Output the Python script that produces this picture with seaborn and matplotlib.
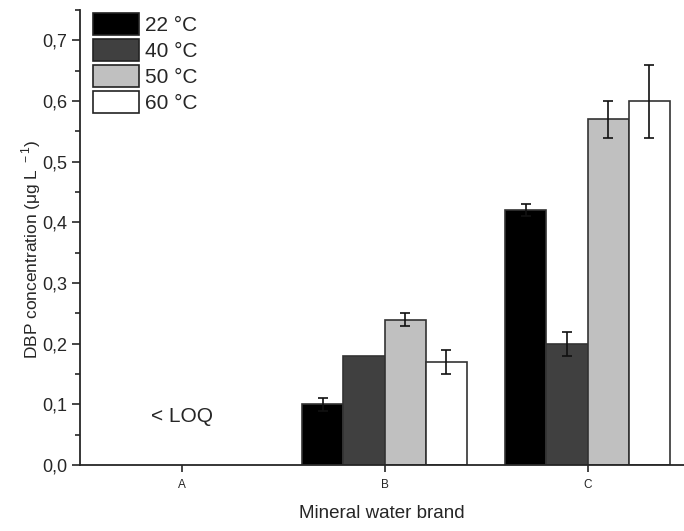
import numpy as np
import pandas as pd
import seaborn as sns
import matplotlib.pyplot as plt
from matplotlib.ticker import FuncFormatter, MultipleLocator
from matplotlib.patches import Patch

# data (A is below LOQ)
brands = ['A', 'B', 'C']
temps = ['22 °C', '40 °C', '50 °C', '60 °C']
conc_22 = [np.nan, 0.10, 0.42]
conc_40 = [np.nan, 0.18, 0.20]
conc_50 = [np.nan, 0.24, 0.57]
conc_60 = [np.nan, 0.17, 0.60]
err_22 = [np.nan, 0.01, 0.01]
err_40 = [np.nan, 0.00, 0.02]
err_50 = [np.nan, 0.01, 0.03]
err_60 = [np.nan, 0.02, 0.06]

colors = ['#000000', '#404040', '#c0c0c0', '#ffffff']

vals = [conc_22, conc_40, conc_50, conc_60]
errs = [err_22, err_40, err_50, err_60]
rows = []
for t, v, e in zip(temps, vals, errs):
    for b, vv, ee in zip(brands, v, e):
        rows.append({'brand': b, 'temp': t, 'conc': vv, 'err': ee})
df = pd.DataFrame(rows)

sns.set_style('ticks')
plt.rcParams['font.family'] = ['Liberation Sans', 'DejaVu Sans']
plt.rcParams['mathtext.fontset'] = 'custom'
plt.rcParams['mathtext.rm'] = 'Liberation Sans'

fig = plt.figure(figsize=(6.84, 5.31), dpi=100)
ax = fig.add_axes([0.117, 0.124, 0.883, 0.857])

sns.barplot(data=df.dropna(), x='brand', y='conc', hue='temp', order=brands,
            hue_order=temps, palette=colors, edgecolor='#333333', linewidth=1.2,
            width=0.81, gap=0, errorbar=None, legend=False, ax=ax)

# error bars on top of each bar
for t, cont in zip(temps, ax.containers):
    for bar in cont:
        xc = bar.get_x() + bar.get_width() / 2
        b = brands[int(round(xc))]
        e = df[(df.brand == b) & (df.temp == t)]['err'].iloc[0]
        if e > 0:
            ax.errorbar(xc, bar.get_height(), yerr=e, fmt='none', ecolor='#111111',
                        elinewidth=1.2, capsize=3.5, capthick=1.2)

ax.text(0, 0.08, '< LOQ', ha='center', va='center', fontsize=15)

ax.set_xlim(-0.5, 2.475)
ax.set_ylim(0, 0.75)
ax.yaxis.set_major_locator(MultipleLocator(0.1))
ax.yaxis.set_minor_locator(MultipleLocator(0.05))
ax.yaxis.set_major_formatter(FuncFormatter(lambda v, p: f'{v:.1f}'.replace('.', ',')))
ax.tick_params(axis='y', which='major', labelsize=13, length=6, width=1.2, pad=3)
ax.tick_params(axis='y', which='minor', length=3.5, width=1.2)
ax.tick_params(axis='x', labelsize=8.5, length=5, width=1.2, pad=5)
for s in ['top', 'right']:
    ax.spines[s].set_visible(False)
for s in ['left', 'bottom']:
    ax.spines[s].set_linewidth(1.3)

ax.set_xlabel('Mineral water brand', fontsize=13.5, labelpad=10)
ax.set_ylabel('DBP concentration (μg L$^{\\ -1}$)', fontsize=12.5)
ax.yaxis.set_label_coords(-0.062, 0.475)

handles = [Patch(facecolor=c, edgecolor='#222222', linewidth=1.2, label=t)
           for c, t in zip(colors, temps)]
ax.legend(handles=handles, loc='upper left', frameon=False, fontsize=15,
          handlelength=2.2, handleheight=1.32, labelspacing=0.145, handletextpad=0.3,
          borderaxespad=0.0, bbox_to_anchor=(0.008, 1.013))

fig.savefig('out.png', dpi=100)
